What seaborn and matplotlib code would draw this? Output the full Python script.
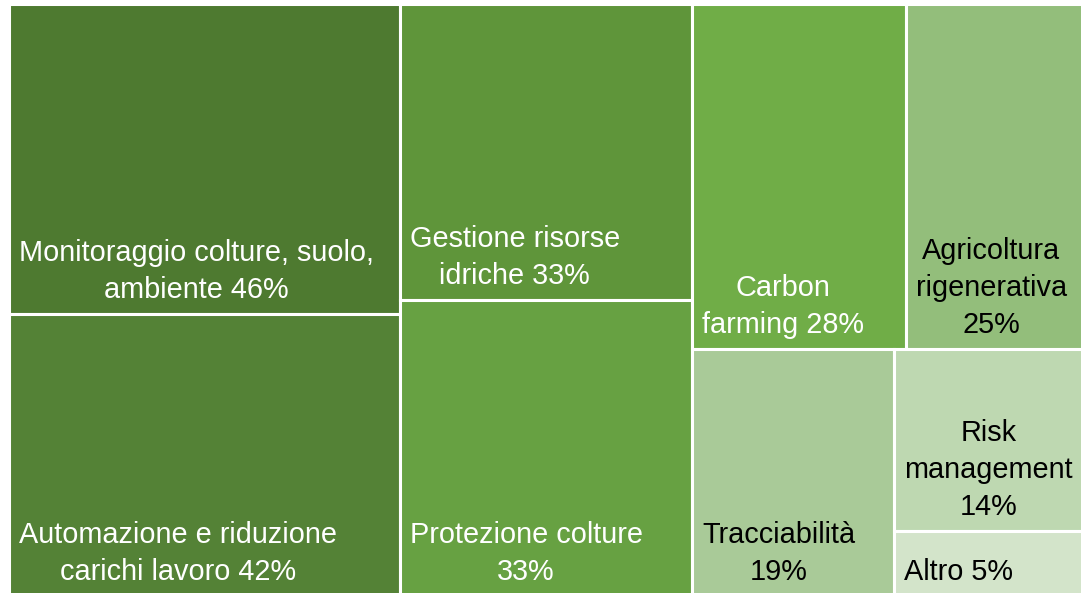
import matplotlib
matplotlib.use("Agg")
import matplotlib.pyplot as plt
from matplotlib.patches import Rectangle
import seaborn as sns

# treemap data (share of respondents, %)
labels = [
    "Monitoraggio colture, suolo,\nambiente 46%",
    "Automazione e riduzione\ncarichi lavoro 42%",
    "Gestione risorse\nidriche 33%",
    "Protezione colture\n33%",
    "Carbon\nfarming 28%",
    "Agricoltura\nrigenerativa\n25%",
    "Tracciabilità\n19%",
    "Risk\nmanagement\n14%",
    "Altro 5%",
]
values = [46, 42, 33, 33, 28, 25, 19, 14, 5]
colors = ["#4e7a30", "#548236", "#5f953a", "#67a142", "#70ad47",
          "#93be7b", "#a9ca98", "#bed8b1", "#d3e4ca"]
text_colors = ["white"] * 5 + ["black"] * 4


def worst(row, side):
    s = sum(row)
    return max(max(side * side * r / (s * s), s * s / (side * side * r)) for r in row)


def squarify(vals, x, y, w, h):
    # squarified treemap layout, vals already scaled to area
    rects = []
    vals = list(vals)
    while vals:
        short = min(w, h)
        row = [vals[0]]
        i = 1
        while i < len(vals) and worst(row + [vals[i]], short) <= worst(row, short):
            row.append(vals[i])
            i += 1
        s = sum(row)
        if w >= h:
            cw = s / h
            yy = y
            for v in row:
                rects.append((x, yy, cw, v / cw))
                yy += v / cw
            x += cw
            w -= cw
        else:
            rh = s / w
            xx = x
            for v in row:
                rects.append((xx, y, v / rh, rh))
                xx += v / rh
            y += rh
            h -= rh
        vals = vals[i:]
    return rects


sns.set_theme(style="white")
plt.rcParams["font.family"] = ["Liberation Sans", "DejaVu Sans"]

# the chart runs a bit past the right edge of the picture
W, H = 1086, 591
fig = plt.figure(figsize=(10.81, 5.93), dpi=100)
ax = fig.add_axes([10 / 1081, 0, 1071 / 1081, 588 / 593])

scale = W * H / sum(values)
rects = squarify([v * scale for v in values], 0, 0, W, H)

for (x, y, w, h), lab, c, tc in zip(rects, labels, colors, text_colors):
    ax.add_patch(Rectangle((x, y), w, h, facecolor=c, edgecolor="white", linewidth=2.2))
    ax.text(x + 10, y + h - 10, lab, ha="left", va="bottom",
            multialignment="center", color=tc, fontsize=20.8, linespacing=1.4)

ax.set_xlim(0.8, 1071)
ax.set_ylim(588, 0.8)
ax.axis("off")

fig.savefig("out.png", dpi=100)
